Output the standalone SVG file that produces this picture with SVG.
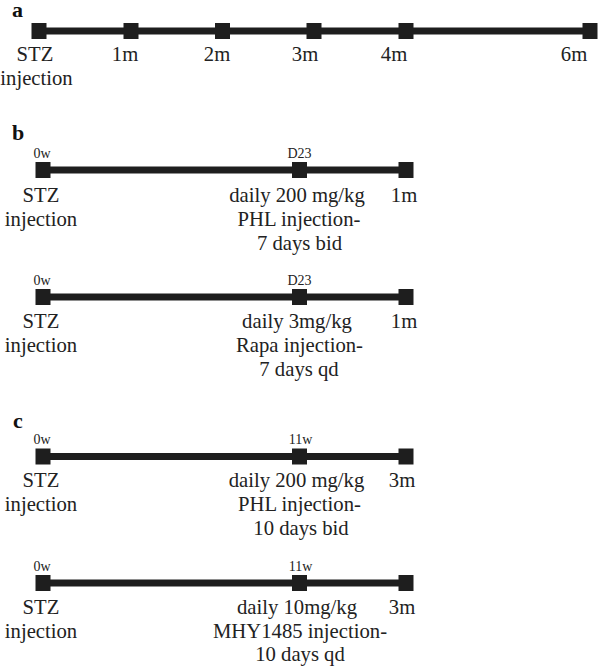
<svg xmlns="http://www.w3.org/2000/svg" width="602" height="669" viewBox="0 0 602 669">
<style>
.ln{stroke:#1e1e1e;stroke-width:7;fill:none}
.sq{fill:#1e1e1e}
.t{font-family:"Liberation Serif","Times New Roman",serif;font-size:20.7px;fill:#222;text-anchor:middle}
.s{font-family:"Liberation Serif","Times New Roman",serif;font-size:14px;fill:#222;text-anchor:middle}
.p{font-family:"Liberation Serif","Times New Roman",serif;font-size:22px;font-weight:bold;fill:#111}
</style>
<rect width="602" height="669" fill="#fff"/>
<defs>
<rect id="q" x="-7.5" y="-8" width="15" height="16" class="sq"/>
</defs>
<g id="connectors">
<line class="ln" x1="39" y1="31" x2="590" y2="31"/>
<line class="ln" x1="43" y1="170" x2="406" y2="170"/>
<line class="ln" x1="43" y1="297" x2="406" y2="297"/>
<line class="ln" x1="43" y1="456.5" x2="406" y2="456.5"/>
<line class="ln" x1="43" y1="583" x2="406" y2="583"/>
</g>
<g id="panel-a">
<text class="p" x="12" y="17">a</text>
<g id="a-stz"><use href="#q" x="39" y="31"/><text class="t" x="35" y="61">STZ</text><text class="t" x="36.5" y="85">injection</text></g>
<g id="a-1m"><use href="#q" x="131" y="31"/><text class="t" x="125" y="61">1m</text></g>
<g id="a-2m"><use href="#q" x="222.5" y="31"/><text class="t" x="217" y="61">2m</text></g>
<g id="a-3m"><use href="#q" x="314" y="31"/><text class="t" x="305" y="61">3m</text></g>
<g id="a-4m"><use href="#q" x="406" y="31"/><text class="t" x="394" y="61">4m</text></g>
<g id="a-6m"><use href="#q" x="590" y="31"/><text class="t" x="574" y="61">6m</text></g>
</g>
<g id="panel-b">
<text class="p" x="12" y="140">b</text>
<g id="b1-start"><use href="#q" x="43" y="170"/><text class="s" x="42" y="158">0w</text><text class="t" x="41" y="202">STZ</text><text class="t" x="41" y="226">injection</text></g>
<g id="b1-mid"><use href="#q" x="299.5" y="170"/><text class="s" x="299.5" y="158">D23</text><text class="t" x="297" y="202">daily 200 mg/kg</text><text class="t" x="299" y="226">PHL injection-</text><text class="t" x="299.5" y="250">7 days bid</text></g>
<g id="b1-end"><use href="#q" x="406" y="170"/><text class="t" x="404" y="202">1m</text></g>
<g id="b2-start"><use href="#q" x="43" y="297"/><text class="s" x="42" y="285">0w</text><text class="t" x="41" y="328">STZ</text><text class="t" x="41" y="352">injection</text></g>
<g id="b2-mid"><use href="#q" x="299.5" y="297"/><text class="s" x="299.5" y="285">D23</text><text class="t" x="297" y="328">daily 3mg/kg</text><text class="t" x="299.5" y="352">Rapa injection-</text><text class="t" x="299" y="376">7 days qd</text></g>
<g id="b2-end"><use href="#q" x="406" y="297"/><text class="t" x="404" y="328">1m</text></g>
</g>
<g id="panel-c">
<text class="p" x="13" y="428">c</text>
<g id="c1-start"><use href="#q" x="43" y="456.5"/><text class="s" x="42" y="444">0w</text><text class="t" x="41" y="487">STZ</text><text class="t" x="41" y="511">injection</text></g>
<g id="c1-mid"><use href="#q" x="299.5" y="456.5"/><text class="s" x="300.5" y="444">11w</text><text class="t" x="296.5" y="487">daily 200 mg/kg</text><text class="t" x="299.5" y="511">PHL injection-</text><text class="t" x="301" y="535">10 days bid</text></g>
<g id="c1-end"><use href="#q" x="406" y="456.5"/><text class="t" x="402" y="487">3m</text></g>
<g id="c2-start"><use href="#q" x="43" y="583"/><text class="s" x="42" y="571">0w</text><text class="t" x="41" y="614">STZ</text><text class="t" x="41" y="638">injection</text></g>
<g id="c2-mid"><use href="#q" x="299.5" y="583"/><text class="s" x="300.5" y="571">11w</text><text class="t" x="297" y="614">daily 10mg/kg</text><text class="t" x="300" y="638">MHY1485 injection-</text><text class="t" x="300" y="661">10 days qd</text></g>
<g id="c2-end"><use href="#q" x="406" y="583"/><text class="t" x="402" y="614">3m</text></g>
</g>
</svg>
